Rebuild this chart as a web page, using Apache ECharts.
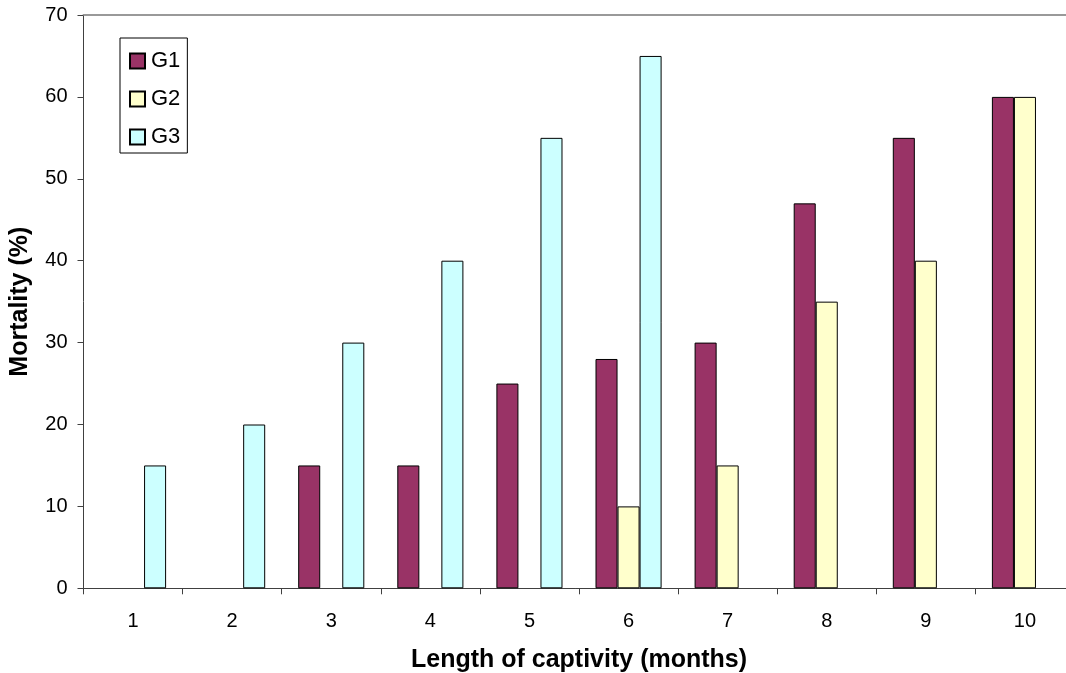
<!DOCTYPE html>
<html>
<head>
<meta charset="utf-8">
<script src="https://cdn.jsdelivr.net/npm/echarts@6/dist/echarts.min.js"></script>
<style>html,body{margin:0;padding:0;background:#fff;}#c{width:1066px;height:673px;}</style>
</head>
<body>
<div id="c"></div>
<script>
const categories = ['1','2','3','4','5','6','7','8','9','10'];
const g1 = [0, 0, 15, 15, 25, 28, 30, 47, 55, 60];
const g2 = [0, 0, 0, 0, 0, 10, 15, 35, 40, 60];
const g3 = [15, 20, 30, 40, 55, 65, 0, 0, 0, 0];
const seriesNames = ['G1','G2','G3'];
const colors = ['#993366','#FFFFCC','#CCFFFF'];

const chart = echarts.init(document.getElementById('c'));
const font = 'Liberation Sans, Arial, sans-serif';
const mk = (name, data, color) => ({
  name, type: 'bar', data: data.map(v => v === 0 ? null : v), xAxisIndex: 0, yAxisIndex: 0,
  barGap: '0%', barCategoryGap: '33.3%',
  itemStyle: { color, borderColor: '#000', borderWidth: 1 },
  emphasis: { disabled: true }
});
chart.setOption({
  animation: false,
  textStyle: { fontFamily: font },
  grid: { left: 83.5, top: 15, right: -8.5, bottom: 84.7, containLabel: false, outerBoundsMode: 'none' },
  legend: {
    orient: 'vertical', left: 120, top: 38,
    padding: [12, 7, 5, 9],
    itemWidth: 15, itemHeight: 15, itemGap: 16,
    borderColor: '#000', borderWidth: 1, backgroundColor: '#fff',
    icon: 'rect',
    textStyle: { fontSize: 22, color: '#000', fontFamily: font, padding: [0,0,0,1] },
    data: seriesNames
  },
  xAxis: [{
    type: 'category', data: categories,
    axisLine: { lineStyle: { color: '#404040', width: 1 } },
    axisTick: { show: true, length: 6, lineStyle: { color: '#404040' } },
    axisLabel: { fontSize: 20, color: '#000', margin: 23, fontFamily: font },
    name: 'Length of captivity (months)', nameLocation: 'middle', nameGap: 59,
    nameTextStyle: { fontSize: 25, fontWeight: 'bold', color: '#000', fontFamily: font }
  }, {
    type: 'category', data: categories, position: 'top',
    axisLine: { show: true, lineStyle: { color: '#999', width: 2 } },
    axisTick: { show: false }, axisLabel: { show: false }
  }],
  yAxis: {
    type: 'value', min: 0, max: 70, interval: 10,
    axisLine: { show: true, lineStyle: { color: '#404040', width: 1 } },
    axisTick: { show: true, length: 6, lineStyle: { color: '#404040' } },
    splitLine: { show: false },
    axisLabel: { fontSize: 20, color: '#000', margin: 16, fontFamily: font },
    name: 'Mortality (%)', nameLocation: 'middle', nameGap: 51, nameRotate: 90,
    nameTextStyle: { fontSize: 25, fontWeight: 'bold', color: '#000', fontFamily: font }
  },
  series: [mk('G1', g1, colors[0]), mk('G2', g2, colors[1]), mk('G3', g3, colors[2])]
});
</script>
</body>
</html>
